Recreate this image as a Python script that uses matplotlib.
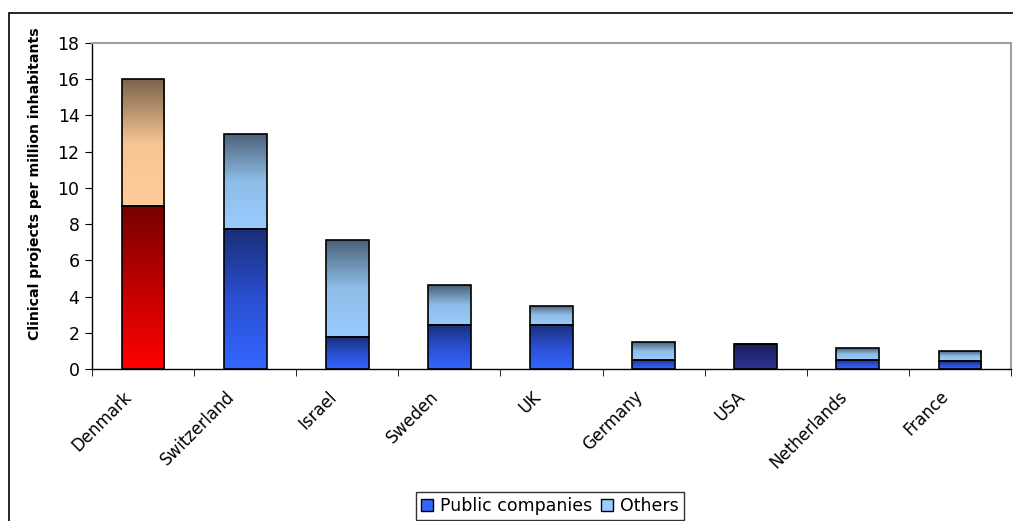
import numpy as np
import matplotlib
matplotlib.use("Agg")
import matplotlib.pyplot as plt
import matplotlib.transforms as mtransforms
from matplotlib.colors import LinearSegmentedColormap
from matplotlib.patches import Rectangle, Patch

countries = ["Denmark", "Switzerland", "Israel", "Sweden", "UK",
             "Germany", "USA", "Netherlands", "France"]
public = [9.0, 7.75, 1.75, 2.45, 2.45, 0.52, 1.4, 0.52, 0.43]
others = [7.0, 5.25, 5.4, 2.2, 1.05, 0.98, 0.0, 0.62, 0.55]

# gradient colours (bottom -> top)
grad_public = ["#3366ff", "#2a4fd0", "#1a2e78"]
grad_others = ["#99ccff", "#8fbde8", "#4a6078"]
grad_dk_public = ["#ff0000", "#c00000", "#780000"]
grad_dk_others = ["#ffcc99", "#f7c493", "#7a634a"]
grad_usa = ["#2e3192", "#26287a", "#1a1a55"]

plt.rcParams['font.family'] = ['DejaVu Sans']

fig = plt.figure(figsize=(10.13, 5.21), dpi=100)
ax = fig.add_axes([92/1013, 1 - 369/521, 919/1013, 326/521])

x = np.arange(len(countries))
width = 0.42


def fill_gradient(bar, colors):
    cmap = LinearSegmentedColormap.from_list("g", colors)
    x0, y0 = bar.get_x(), bar.get_y()
    w, h = bar.get_width(), bar.get_height()
    if h <= 0:
        return
    grad = np.linspace(0, 1, 256).reshape(-1, 1)
    im = ax.imshow(grad, cmap=cmap, origin="lower", aspect="auto",
                   extent=(x0, x0 + w, y0, y0 + h), zorder=2)
    im.set_clip_path(bar)


bars_pub = ax.bar(x, public, width, facecolor="none", edgecolor="black",
                  linewidth=1.2, zorder=3)
bars_oth = ax.bar(x, others, width, bottom=public, facecolor="none",
                  edgecolor="black", linewidth=1.2, zorder=3)

for i, (bp, bo) in enumerate(zip(bars_pub, bars_oth)):
    if countries[i] == "Denmark":
        fill_gradient(bp, grad_dk_public)
        fill_gradient(bo, grad_dk_others)
    elif countries[i] == "USA":
        fill_gradient(bp, grad_usa)
    else:
        fill_gradient(bp, grad_public)
        fill_gradient(bo, grad_others)

ax.set_xlim(-0.5, len(countries) - 0.5)
ax.set_ylim(0, 18)
ax.set_yticks(range(0, 19, 2))
ax.tick_params(axis="y", labelsize=12.5, length=5, direction="out", pad=4)

ax.set_xticks(x)
ax.set_xticklabels(countries, rotation=45, ha="right", rotation_mode="anchor",
                   fontsize=12)
ax.tick_params(axis="x", which="major", length=0, pad=9)
offset = mtransforms.ScaledTranslation(-20/100, -6/100, fig.dpi_scale_trans)
for lbl in ax.get_xticklabels():
    lbl.set_transform(lbl.get_transform() + offset)
ax.set_xticks(np.arange(-0.5, len(countries), 1), minor=True)
ax.tick_params(axis="x", which="minor", length=5, direction="out")

for s in ("top", "right"):
    ax.spines[s].set_color("#a0a0a0")
    ax.spines[s].set_linewidth(1.5)
for s in ("left", "bottom"):
    ax.spines[s].set_color("black")
    ax.spines[s].set_linewidth(1.0)

ax.set_ylabel("Clinical projects per million inhabitants", fontsize=10.2,
              fontweight="bold")
ax.yaxis.set_label_coords(-50/919, 0.567)

handles = [Patch(facecolor="#3366ff", edgecolor="black", label="Public companies"),
           Patch(facecolor="#99ccff", edgecolor="black", label="Others")]
leg = fig.legend(handles=handles, loc="upper center", ncol=2,
                 bbox_to_anchor=(550/1013, 1 - 492/521), fontsize=12.5,
                 frameon=True, fancybox=False, handlelength=0.7,
                 handleheight=0.7, handletextpad=0.4, columnspacing=0.5,
                 borderpad=0.3, borderaxespad=0)
leg.get_frame().set_edgecolor("black")
leg.get_frame().set_linewidth(1.0)

# outer chart frame
fig.patches.append(Rectangle((9/1013, -0.1), 1.1, 1 - 13/521 + 0.1,
                             transform=fig.transFigure, fill=False,
                             edgecolor="black", linewidth=1.2, zorder=0))

fig.savefig("out.png", dpi=100)
